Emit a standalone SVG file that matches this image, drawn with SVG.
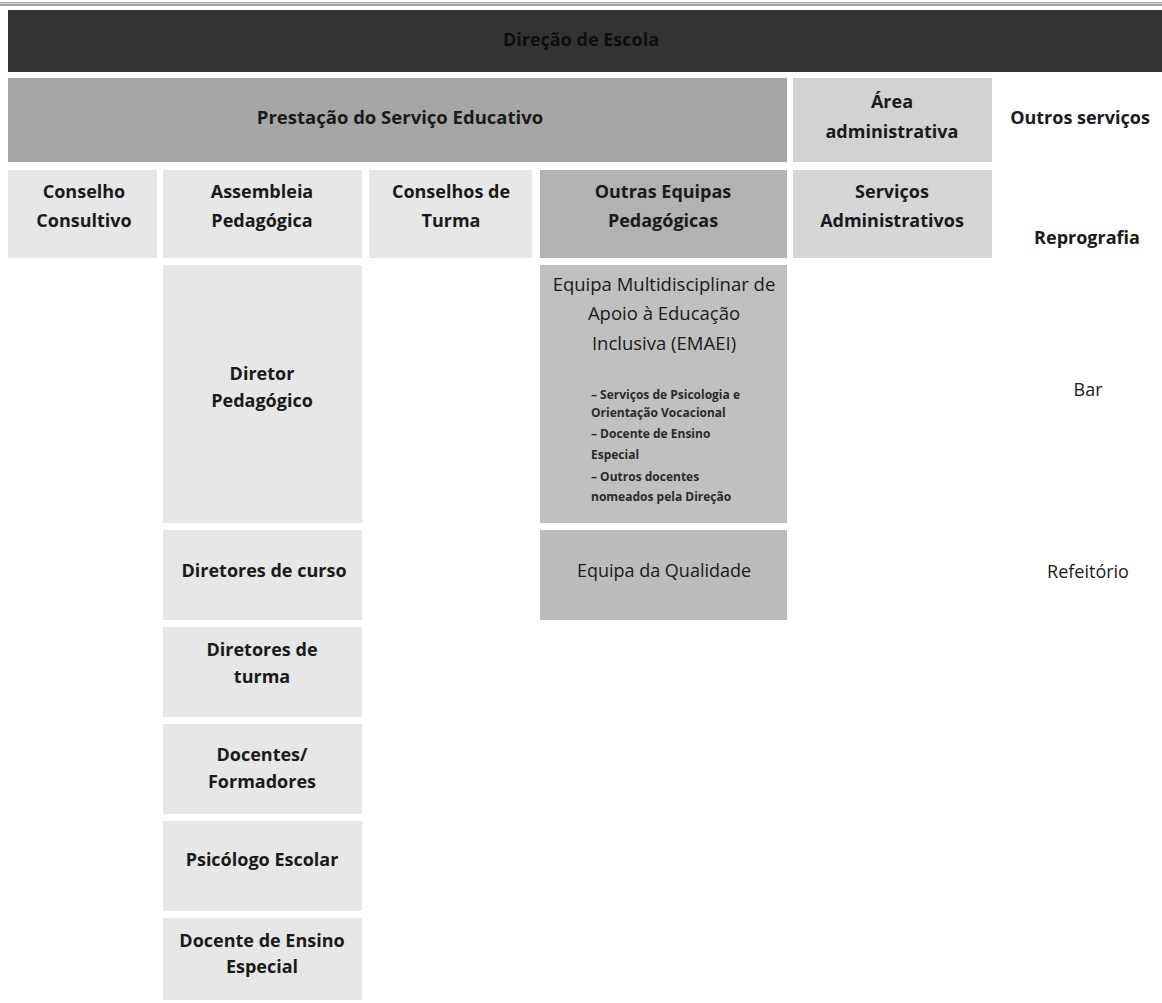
<svg xmlns="http://www.w3.org/2000/svg" width="1162" height="1003" viewBox="0 0 1162 1003">
<style>
text{font-family:"Open Sans","Liberation Sans",sans-serif;font-weight:bold;fill:#1a1a1a;text-anchor:middle}
.t{font-size:18px}
.h{font-size:18.5px;font-weight:normal}
.s{font-size:12px;text-anchor:start;fill:#2a2a2a}
.n{font-weight:normal}
.lt{fill:#e7e7e7}
</style>
<rect x="0" y="0" width="1162" height="1003" fill="#ffffff"/>
<rect x="0" y="2" width="1162" height="4" fill="#a0a0a0"/>
<rect x="0" y="3" width="1162" height="1" fill="#d8d8d8"/>
<g id="direcao"><rect x="8" y="10" width="1154" height="62" fill="#333333"/><text class="t" x="581" y="46" style="fill:#0e0e0e">Direção de Escola</text></g>
<g id="prestacao"><rect x="8" y="78" width="779" height="84" fill="#a6a6a6"/><text class="t" x="400" y="124" style="font-size:18.5px">Prestação do Serviço Educativo</text></g>
<g id="area-admin"><rect x="793" y="78" width="199" height="84" fill="#d2d2d2"/><text class="t" x="892" y="108">Área</text><text class="t" x="892" y="138">administrativa</text></g>
<g id="outros-servicos"><text class="t" x="1080" y="124">Outros serviços</text></g>
<g id="conselho-consultivo"><rect class="lt" x="8" y="170" width="149" height="88"/><text class="t" x="84" y="198">Conselho</text><text class="t" x="84" y="227">Consultivo</text></g>
<g id="assembleia"><rect class="lt" x="163" y="170" width="199" height="88"/><text class="t" x="262" y="198">Assembleia</text><text class="t" x="262" y="227">Pedagógica</text></g>
<g id="conselhos-turma"><rect class="lt" x="369" y="170" width="163" height="88"/><text class="t" x="451" y="198">Conselhos de</text><text class="t" x="451" y="227">Turma</text></g>
<g id="outras-equipas"><rect x="540" y="170" width="247" height="88" fill="#b2b2b2"/><text class="t" x="663" y="198">Outras Equipas</text><text class="t" x="663" y="227">Pedagógicas</text></g>
<g id="servicos-admin"><rect x="793" y="170" width="199" height="88" fill="#d6d6d6"/><text class="t" x="892" y="198">Serviços</text><text class="t" x="892" y="227">Administrativos</text></g>
<g id="reprografia"><text class="t" x="1087" y="244">Reprografia</text></g>
<g id="diretor-pedagogico"><rect class="lt" x="163" y="265" width="199" height="258"/><text class="t" x="262" y="380">Diretor</text><text class="t" x="262" y="407">Pedagógico</text></g>
<g id="emaei"><rect x="540" y="265" width="247" height="258" fill="#c0c0c0"/>
<text class="h" x="664" y="291">Equipa Multidisciplinar de</text>
<text class="h" x="664" y="320">Apoio à Educação</text>
<text class="h" x="664" y="350">Inclusiva (EMAEI)</text>
<text class="s" x="591" y="399">– Serviços de Psicologia e</text>
<text class="s" x="591" y="417">Orientação Vocacional</text>
<text class="s" x="591" y="438">– Docente de Ensino</text>
<text class="s" x="591" y="459">Especial</text>
<text class="s" x="591" y="481">– Outros docentes</text>
<text class="s" x="591" y="501">nomeados pela Direção</text></g>
<g id="bar"><text class="t n" x="1088" y="396">Bar</text></g>
<g id="diretores-curso"><rect class="lt" x="163" y="530" width="199" height="90"/><text class="t" x="264" y="577">Diretores de curso</text></g>
<g id="equipa-qualidade"><rect x="540" y="530" width="247" height="90" fill="#bcbcbc"/><text class="t n" x="664" y="577">Equipa da Qualidade</text></g>
<g id="refeitorio"><text class="t n" x="1088" y="578">Refeitório</text></g>
<g id="diretores-turma"><rect class="lt" x="163" y="627" width="199" height="90"/><text class="t" x="262" y="656">Diretores de</text><text class="t" x="262" y="683">turma</text></g>
<g id="docentes"><rect class="lt" x="163" y="724" width="199" height="90"/><text class="t" x="262" y="761">Docentes/</text><text class="t" x="262" y="788">Formadores</text></g>
<g id="psicologo"><rect class="lt" x="163" y="821" width="199" height="90"/><text class="t" x="262" y="866">Psicólogo Escolar</text></g>
<g id="docente-especial"><rect class="lt" x="163" y="918" width="199" height="82"/><text class="t" x="262" y="947">Docente de Ensino</text><text class="t" x="262" y="973">Especial</text></g>
<g id="connectors"></g>
</svg>
